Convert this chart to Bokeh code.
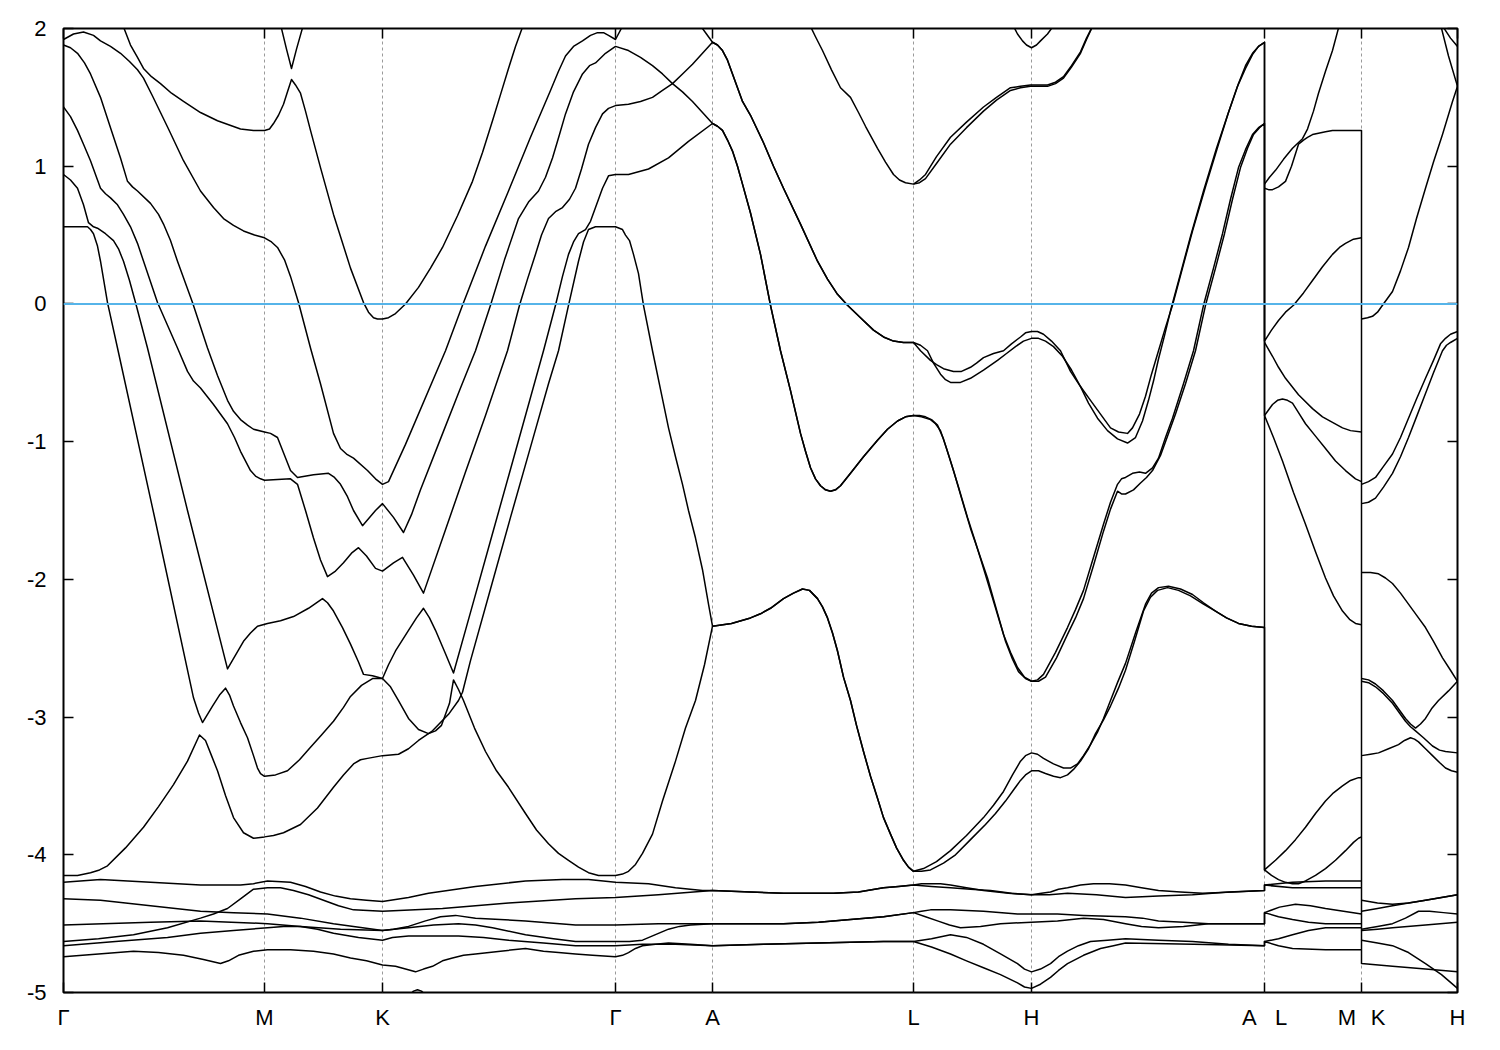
from bokeh.plotting import figure
from bokeh.models import Range1d, FixedTicker, Span, LinearAxis
from bokeh.embed import file_html
from bokeh.resources import INLINE

# ---------------- axes data ----------------
sym_k = [0, 201, 319, 552, 649, 850, 968, 1201, 1298, 1394]
sym_labels = ["Γ", "M", "K", "Γ", "A", "L", "H", "A\u2002\u2004L", "M\u2002\u2006K", "H"]
e_ticks = [-5, -4, -3, -2, -1, 0, 1, 2]
e_min, e_max = -5, 2
fermi_level = 0.0

# ---------------- band data: (k, E[eV]) ----------------
# Γ-M-K-Γ upper bands
gmkg_1 = [(0,1.92),(10,1.96),(20,1.975),(30,1.95),(37,1.91),(47,1.87),(57,1.82),(66,1.76),(74,1.70),(80,1.64),(89,1.51),(97,1.39),(105,1.27),
          (120,1.04),(137,0.82),(150,0.70),(160,0.62),(170,0.57),(180,0.53),(191,0.50),(201,0.48),
          (208,0.45),(214,0.41),(221,0.32),(227,0.20),(235,0.01),(247,-0.32),(257,-0.58),(270,-0.94),(277,-1.05),(283,-1.09),(290,-1.12),
          (304,-1.21),(312,-1.27),(319,-1.31),
          (325,-1.29),(342,-1.02),(382,-0.34),(399,-0.01),(422,0.42),(445,0.82),(467,1.21),(487,1.55),(495,1.69),(502,1.80),(510,1.87),
          (519,1.91),(527,1.95),(534,1.97),(540,1.97),(545,1.95),(552,1.92)]
ga_4 = [(552,1.92),(560,2.03)]
gmkg_2 = [(59,2.03),(67,1.88),(74,1.79),(80,1.71),(88,1.65),(97,1.60),(108,1.53),(120,1.47),(137,1.39),(154,1.33),(177,1.27),(190,1.26),(201,1.26),
          (206,1.27),(210,1.31),(215,1.37),(220,1.45),(224,1.54),(228,1.63),(232,1.59),(237,1.53),
          (242,1.40),(247,1.26),(257,0.99),(270,0.65),(287,0.26),(300,0.01),(305,-0.06),(310,-0.10),(314,-0.11),(319,-0.11),(325,-0.10),(332,-0.07),
          (342,0.0),(355,0.12),(367,0.26),(379,0.41),(394,0.64),(409,0.89),(419,1.10),(429,1.33),(437,1.52),(445,1.71),(452,1.87),(460,2.03)]
mk_cap = [(217,2.03),(223,1.85),(228,1.71),(233,1.85),(240,2.03)]
gmkg_b = [(0,1.88),(7,1.86),(14,1.82),(21,1.75),(27,1.67),(37,1.50),(47,1.28),(57,1.06),(64,0.89),(69,0.85),(74,0.82),(87,0.73),(95,0.65),
          (100,0.58),(107,0.46),(114,0.31),(129,0.01),(144,-0.32),(154,-0.52),(164,-0.70),(170,-0.78),(177,-0.84),(184,-0.88),(190,-0.91),(201,-0.93),
          (207,-0.94),(214,-0.97),(220,-1.08),(227,-1.21),(234,-1.26),(250,-1.24),(265,-1.23),(271,-1.26),(277,-1.31),(284,-1.40),(290,-1.50),
          (299,-1.61),(312,-1.50),(319,-1.45),(330,-1.55),(340,-1.66),(348,-1.53),(357,-1.35),(377,-0.98),(397,-0.61),(412,-0.34),(427,-0.01),
          (441,0.32),(455,0.62),(465,0.74),(475,0.82),(482,0.92),(489,1.06),(496,1.23),(502,1.38),(510,1.54),(519,1.67),(526,1.73),(532,1.75),
          (542,1.82),(552,1.87)]
gmkg_c = [(0,1.43),(7,1.36),(14,1.26),(20,1.16),(27,1.04),(37,0.84),(42,0.80),(47,0.77),(54,0.72),(60,0.65),(67,0.56),(74,0.44),(94,0.01),
          (114,-0.32),(124,-0.49),(130,-0.56),(137,-0.61),(150,-0.73),(164,-0.87),(171,-0.97),(177,-1.07),(187,-1.21),(192,-1.25),(197,-1.27),
          (201,-1.28),(227,-1.27),(234,-1.31),(242,-1.50),(250,-1.70),(257,-1.86),(264,-1.98),(272,-1.94),(280,-1.88),(288,-1.81),(295,-1.77),
          (303,-1.83),(312,-1.92),(319,-1.94),(330,-1.88),(339,-1.84),(350,-1.97),(360,-2.10),(382,-1.64),(402,-1.22),(422,-0.81),(444,-0.34),
          (456,-0.01),(464,0.18),(472,0.36),(478,0.50),(485,0.62),(492,0.67),(499,0.70),(506,0.76),(512,0.84),(518,0.98),(525,1.16),(532,1.28),
          (539,1.38),(545,1.42),(552,1.44)]
gmkg_d = [(0,0.94),(7,0.90),(14,0.84),(20,0.72),(25,0.59),(30,0.56),(34,0.55),(42,0.51),(50,0.46),(55,0.40),(60,0.31),(66,0.17),(72,0.01),
          (84,-0.32),(124,-1.50),(164,-2.65),(172,-2.55),(180,-2.45),(187,-2.39),(194,-2.34),(204,-2.32),(217,-2.30),(230,-2.27),(245,-2.21),
          (259,-2.14),(264,-2.17),(270,-2.23),(279,-2.35),(287,-2.47),(295,-2.60),(300,-2.69),(309,-2.70),(319,-2.72),(325,-2.62),(332,-2.52),
          (345,-2.37),(353,-2.28),(360,-2.21),(366,-2.28),(372,-2.37),(382,-2.54),(390,-2.68),(407,-2.24),(427,-1.72),(447,-1.20),(467,-0.68),
          (480,-0.34),(492,-0.01),(499,0.20),(505,0.36),(510,0.45),(515,0.51),(522,0.54),(527,0.60),(532,0.70),(539,0.84),(545,0.93),(552,0.94)]
gmkg_e = [(0,0.56),(15,0.56),(24,0.56),(27,0.54),(30,0.51),(34,0.42),(37,0.31),(44,0.01),(54,-0.32),(92,-1.58),(130,-2.86),(135,-2.97),
          (139,-3.04),(144,-2.98),(149,-2.92),(156,-2.84),(162,-2.79),(166,-2.84),(170,-2.92),(177,-3.04),(184,-3.15),(190,-3.28),(194,-3.37),
          (197,-3.41),(201,-3.43),(212,-3.42),(224,-3.39),(236,-3.31),(247,-3.22),(258,-3.13),(270,-3.03),(280,-2.93),(287,-2.85),(298,-2.77),
          (309,-2.72),(319,-2.72),(327,-2.78),(335,-2.88),(345,-3.01),(355,-3.09),(365,-3.12),(372,-3.10),(378,-3.06),(386,-2.90),(390,-2.73),
          (395,-2.80),(400,-2.88),(411,-3.08),(422,-3.25),(433,-3.39),(445,-3.51),(462,-3.70),(473,-3.82),(485,-3.92),(495,-3.99),(505,-4.04),
          (515,-4.09),(525,-4.13),(535,-4.15),(545,-4.15),(552,-4.15)]
gmkg_q = [(0,-4.15),(14,-4.15),(27,-4.13),(36,-4.11),(44,-4.08),(62,-3.95),(80,-3.80),(95,-3.65),(110,-3.49),(124,-3.32),(136,-3.13),
          (142,-3.17),(148,-3.28),(154,-3.39),(162,-3.57),(170,-3.73),(180,-3.84),(190,-3.88),(201,-3.87),(210,-3.86),(220,-3.84),(237,-3.78),
          (254,-3.66),(270,-3.51),(280,-3.42),(290,-3.34),(297,-3.31),(304,-3.30),(319,-3.28),(335,-3.27),(345,-3.23),(355,-3.17),(369,-3.10),
          (385,-2.98),(395,-2.88),(399,-2.82),(407,-2.59),(427,-2.07),(447,-1.55),(467,-1.04),(485,-0.58),(495,-0.34),(505,-0.01),(515,0.31),
          (520,0.45),(525,0.54),(532,0.56),(539,0.56),(552,0.56)]

# Γ-A
ga_1 = [(552,0.94),(565,0.94),(585,0.98),(605,1.06),(625,1.18),(649,1.31)]
ga_2 = [(552,1.44),(565,1.45),(577,1.47),(589,1.50),(599,1.55),(609,1.60),(619,1.67),(629,1.74),(639,1.82),(649,1.90)]
ga_3 = [(552,1.87),(565,1.84),(577,1.79),(589,1.73),(599,1.67),(609,1.60),(619,1.54),(629,1.47),(639,1.39),(649,1.31)]
ga_5 = [(636,2.03),(643,1.96),(649,1.90)]
ga_low = [(552,-4.15),(559,-4.14),(565,-4.12),(572,-4.07),(579,-3.99),(589,-3.85),(599,-3.61),(612,-3.32),(622,-3.08),(632,-2.88),
          (641,-2.62),(649,-2.34)]
ga_q = [(552,0.56),(559,0.54),(562,0.50),(566,0.46),(570,0.36),(575,0.22),(580,-0.01),(589,-0.34),(597,-0.62),(605,-0.90),(612,-1.11),
        (619,-1.31),(625,-1.50),(632,-1.70),(639,-1.93),(645,-2.18),(649,-2.34)]

# A-L
al_u1 = [(649,1.90),(654,1.88),(659,1.84),(664,1.77),(669,1.67),(679,1.47),(687,1.37),(700,1.17),(710,1.00),(720,0.84),(737,0.58),(754,0.31),
         (764,0.18),(774,0.07),(784,-0.01),(797,-0.10),(810,-0.19),(820,-0.24),(830,-0.27),(840,-0.28),(850,-0.28)]
al_u2 = [(649,1.31),(654,1.29),(659,1.26),(664,1.19),(669,1.11),(674,1.00),(679,0.87),(687,0.66),(697,0.36),(707,-0.01),(717,-0.34),
         (727,-0.63),(737,-0.94),(742,-1.07),(747,-1.19),(752,-1.27),(757,-1.32),(762,-1.35),(767,-1.36),(772,-1.35),(777,-1.32),(787,-1.23),
         (800,-1.11),(814,-0.99),(824,-0.91),(834,-0.85),(842,-0.82),(850,-0.81)]
al_top = [(746,2.03),(752,1.94),(759,1.84),(768,1.70),(777,1.57),(787,1.50),(795,1.39),(802,1.29),(814,1.13),(822,1.03),(830,0.94),
          (836,0.90),(842,0.88),(850,0.87)]
al_low = [(649,-2.34),(668,-2.32),(687,-2.28),(697,-2.25),(707,-2.21),(720,-2.14),(730,-2.10),(739,-2.07),(746,-2.08),(754,-2.14),
          (759,-2.20),(764,-2.28),(769,-2.39),(774,-2.52),(780,-2.71),(787,-2.88),(793,-3.06),(800,-3.25),(807,-3.43),(814,-3.59),(820,-3.73),
          (827,-3.85),(833,-3.95),(840,-4.04),(845,-4.09),(850,-4.12)]

# L-H-A
lha_u1a = [(850,-0.28),(857,-0.34),(867,-0.41),(873,-0.44),(880,-0.47),(890,-0.49),(898,-0.49),(907,-0.46),(913,-0.43),(920,-0.39),
           (930,-0.36),(940,-0.34),(948,-0.29),(957,-0.24),(962,-0.21),(968,-0.20),(974,-0.20),(980,-0.22),(988,-0.27),(997,-0.34),(1007,-0.49),
           (1017,-0.60),(1027,-0.70),(1037,-0.80),(1047,-0.90),(1055,-0.93),(1064,-0.94),(1069,-0.90),(1076,-0.80),(1082,-0.67),(1088,-0.51),
           (1095,-0.34),(1102,-0.17),(1109,-0.01),(1119,0.26),(1129,0.53),(1142,0.85),(1155,1.16),(1165,1.39),(1175,1.60),(1182,1.73),
           (1189,1.82),(1195,1.87),(1201,1.90)]
lha_u1b = [(850,-0.28),(857,-0.30),(864,-0.34),(870,-0.43),(877,-0.51),(882,-0.55),(887,-0.57),(897,-0.57),(907,-0.54),(920,-0.48),
           (934,-0.41),(943,-0.36),(952,-0.31),(960,-0.27),(968,-0.25),(975,-0.25),(982,-0.27),(990,-0.31),(999,-0.38),(1008,-0.48),(1017,-0.60),
           (1025,-0.72),(1034,-0.83),(1044,-0.92),(1054,-0.98),(1064,-1.01),(1072,-0.97),(1079,-0.85),(1085,-0.70),(1090,-0.56),(1095,-0.40),
           (1101,-0.23),(1107,-0.05),(1117,0.22),(1127,0.49),(1140,0.82),(1153,1.13),(1164,1.37),(1174,1.58),(1182,1.71),(1189,1.81),(1195,1.87),
           (1201,1.90)]
lha_u2a = [(850,-0.81),(856,-0.81),(862,-0.82),(868,-0.84),(874,-0.88),(880,-0.98),(887,-1.14),(895,-1.33),(904,-1.55),(912,-1.73),
           (920,-1.92),(930,-2.16),(940,-2.40),(947,-2.53),(954,-2.64),(961,-2.71),(968,-2.74),(974,-2.73),(980,-2.69),(992,-2.53),(1004,-2.35),
           (1012,-2.22),(1020,-2.08),(1030,-1.84),(1040,-1.60),(1047,-1.44),(1054,-1.31),(1058,-1.27),(1062,-1.26),(1069,-1.23),(1076,-1.22),
           (1082,-1.23),(1089,-1.19),(1095,-1.12),(1102,-0.97),(1109,-0.83),(1120,-0.58),(1130,-0.34),(1140,-0.01),(1150,0.26),(1159,0.51),
           (1167,0.76),(1175,0.99),(1182,1.12),(1189,1.23),(1195,1.28),(1201,1.31)]
lha_u2b = [(850,-0.81),(858,-0.82),(867,-0.84),(872,-0.87),(877,-0.92),(883,-1.05),(890,-1.21),(898,-1.41),(907,-1.63),(915,-1.80),
           (924,-1.99),(933,-2.22),(942,-2.45),(949,-2.58),(955,-2.67),(962,-2.72),(968,-2.74),(975,-2.74),(982,-2.71),(993,-2.57),(1004,-2.40),
           (1012,-2.28),(1020,-2.14),(1030,-1.90),(1040,-1.65),(1047,-1.49),(1054,-1.36),(1058,-1.38),(1062,-1.38),(1070,-1.35),(1077,-1.30),
           (1083,-1.26),(1089,-1.21),(1097,-1.10),(1104,-0.96),(1112,-0.80),(1122,-0.58),(1132,-0.34),(1142,-0.01),(1152,0.26),(1161,0.51),
           (1169,0.76),(1177,0.99),(1184,1.13),(1190,1.23),(1196,1.28),(1201,1.31)]
lha_top_a = [(850,0.87),(856,0.88),(862,0.91),(873,1.02),(887,1.16),(903,1.28),(920,1.40),(933,1.48),(947,1.55),(957,1.57),(967,1.58),
             (976,1.58),(984,1.58),(992,1.60),(1000,1.64),(1008,1.72),(1017,1.82),(1023,1.92),(1030,2.03)]
lha_top_b = [(850,0.87),(856,0.90),(862,0.94),(873,1.07),(887,1.21),(903,1.32),(920,1.43),(933,1.50),(947,1.57),(957,1.58),(967,1.59),
             (976,1.59),(984,1.59),(992,1.61),(1000,1.65),(1008,1.73),(1017,1.83),(1023,1.93),(1030,2.03)]
h_cap = [(949,2.03),(954,1.96),(959,1.91),(963,1.88),(968,1.86),(973,1.88),(977,1.91),(984,1.96),(991,2.03)]
lha_low_a = [(850,-4.12),(860,-4.10),(873,-4.05),(887,-3.97),(903,-3.86),(920,-3.73),(930,-3.64),(940,-3.54),(949,-3.42),(957,-3.32),
             (962,-3.28),(968,-3.26),(974,-3.27),(980,-3.30),(990,-3.34),(1000,-3.37),(1007,-3.37),(1014,-3.34),(1020,-3.28),(1027,-3.20),
             (1034,-3.11),(1040,-3.01),(1047,-2.88),(1054,-2.75),(1062,-2.61),(1072,-2.39),(1082,-2.18),(1088,-2.10),(1095,-2.06),(1105,-2.05),
             (1117,-2.07),(1129,-2.11),(1140,-2.17),(1152,-2.23),(1163,-2.28),(1175,-2.32),(1188,-2.34),(1201,-2.35)]
lha_low_b = [(850,-4.12),(858,-4.12),(867,-4.11),(880,-4.06),(892,-4.00),(907,-3.89),(922,-3.78),(932,-3.70),(942,-3.61),(950,-3.53),
             (957,-3.46),(962,-3.42),(968,-3.39),(975,-3.39),(982,-3.41),(990,-3.43),(997,-3.44),(1004,-3.42),(1010,-3.38),(1017,-3.32),
             (1025,-3.23),(1032,-3.12),(1040,-3.02),(1047,-2.92),(1055,-2.79),(1062,-2.66),(1071,-2.45),(1080,-2.23),(1087,-2.13),(1094,-2.08),
             (1104,-2.06),(1115,-2.08),(1127,-2.12),(1140,-2.18),(1152,-2.23),(1163,-2.28),(1175,-2.32),(1188,-2.34),(1201,-2.35)]

# L-M
lm_1 = [(1201,0.87),(1206,0.92),(1212,0.97),(1220,1.05),(1229,1.13),(1239,1.20),(1244,1.27),(1250,1.40),(1255,1.53),(1262,1.69),
        (1269,1.84),(1276,2.03)]
lm_2 = [(1201,0.84),(1205,0.83),(1209,0.83),(1215,0.85),(1222,0.89),(1228,1.00),(1235,1.16),(1240,1.19),(1244,1.21),(1249,1.23),
        (1255,1.24),(1262,1.25),(1269,1.26),(1298,1.26)]
lm_3 = [(1201,-0.27),(1208,-0.19),(1215,-0.12),(1222,-0.06),(1230,-0.01),(1240,0.08),(1249,0.17),(1259,0.27),(1269,0.36),(1276,0.41),
        (1282,0.44),(1290,0.47),(1298,0.48)]
lm_4 = [(1201,-0.28),(1209,-0.38),(1215,-0.46),(1222,-0.54),(1235,-0.66),(1249,-0.76),(1259,-0.82),(1269,-0.86),(1279,-0.90),(1287,-0.92),
        (1298,-0.93)]
lm_5 = [(1201,-0.81),(1205,-0.77),(1209,-0.73),(1214,-0.70),(1219,-0.69),(1224,-0.70),(1229,-0.72),(1235,-0.79),(1242,-0.87),(1252,-0.96),
        (1262,-1.05),(1272,-1.14),(1282,-1.21),(1292,-1.27),(1298,-1.29)]
lm_6 = [(1201,-0.81),(1210,-0.97),(1219,-1.14),(1230,-1.37),(1242,-1.60),(1252,-1.80),(1262,-1.99),(1270,-2.12),(1279,-2.23),(1286,-2.29),
        (1292,-2.32),(1298,-2.33)]
lm_7 = [(1201,-4.11),(1208,-4.15),(1215,-4.18),(1222,-4.20),(1229,-4.21),(1235,-4.21),(1242,-4.19),(1252,-4.15),(1262,-4.10),(1272,-4.04),
        (1282,-3.97),(1290,-3.91),(1295,-3.88),(1298,-3.87)]
lm_8 = [(1201,-4.11),(1212,-4.04),(1222,-3.97),(1232,-3.89),(1242,-3.80),(1252,-3.70),(1262,-3.61),(1270,-3.55),(1279,-3.50),(1287,-3.46),
        (1295,-3.44),(1298,-3.44)]
lm_9 = [(1201,-4.22),(1229,-4.20),(1262,-4.19),(1298,-4.19)]
lm_10 = [(1201,-4.22),(1229,-4.24),(1298,-4.24)]
lm_11 = [(1201,-4.42),(1216,-4.38),(1232,-4.36),(1247,-4.37),(1262,-4.39),(1280,-4.41),(1298,-4.43)]
lm_12 = [(1201,-4.42),(1215,-4.45),(1229,-4.47),(1245,-4.49),(1262,-4.50),(1298,-4.50)]
lm_13 = [(1201,-4.63),(1215,-4.61),(1229,-4.58),(1245,-4.55),(1262,-4.53),(1298,-4.53)]
lm_14 = [(1201,-4.63),(1215,-4.66),(1229,-4.68),(1262,-4.69),(1298,-4.69)]

# K-H
kh_t1 = [(1298,-0.11),(1304,-0.10),(1309,-0.09),(1314,-0.06),(1319,-0.01),(1329,0.09),(1337,0.24),(1345,0.41),(1353,0.62),(1362,0.84),
         (1370,1.03),(1379,1.23),(1384,1.35),(1389,1.47),(1394,1.58)]
kh_t2 = [(1377,2.03),(1385,1.80),(1394,1.58)]
kh_t3 = [(1378,2.03),(1387,1.93),(1394,1.87)]
kh_1 = [(1298,-1.31),(1305,-1.29),(1312,-1.26),(1320,-1.18),(1329,-1.09),(1337,-0.97),(1345,-0.83),(1353,-0.69),(1362,-0.54),(1370,-0.41),
        (1377,-0.29),(1382,-0.25),(1387,-0.22),(1394,-0.20)]
kh_2 = [(1298,-1.45),(1305,-1.44),(1312,-1.41),(1320,-1.33),(1329,-1.23),(1337,-1.11),(1345,-0.97),(1353,-0.82),(1362,-0.65),(1370,-0.50),
        (1379,-0.34),(1383,-0.30),(1387,-0.28),(1394,-0.25)]
kh_3 = [(1298,-1.95),(1307,-1.95),(1315,-1.96),(1322,-1.99),(1329,-2.03),(1337,-2.10),(1345,-2.18),(1353,-2.26),(1362,-2.35),(1370,-2.45),
        (1379,-2.57),(1387,-2.66),(1394,-2.74)]
kh_4 = [(1298,-2.72),(1305,-2.73),(1312,-2.76),(1320,-2.81),(1329,-2.88),(1336,-2.95),(1342,-3.01),(1347,-3.05),(1352,-3.08),(1357,-3.05),
        (1362,-3.01),(1368,-2.94),(1375,-2.88),(1385,-2.81),(1394,-2.74)]
kh_5 = [(1298,-2.74),(1305,-2.75),(1312,-2.78),(1320,-2.83),(1329,-2.90),(1336,-2.97),(1342,-3.03),(1347,-3.07),(1352,-3.10),(1360,-3.15),
        (1369,-3.21),(1376,-3.24),(1382,-3.25),(1394,-3.26)]
kh_6 = [(1298,-3.28),(1307,-3.27),(1315,-3.26),(1325,-3.23),(1335,-3.20),(1341,-3.17),(1347,-3.15),(1351,-3.16),(1355,-3.18),(1362,-3.23),
        (1369,-3.28),(1376,-3.33),(1382,-3.37),(1388,-3.39),(1394,-3.40)]
kh_l1 = [(1298,-4.33),(1314,-4.35),(1329,-4.36),(1345,-4.35),(1362,-4.33),(1378,-4.31),(1394,-4.29)]
kh_l2 = [(1298,-4.41),(1314,-4.39),(1329,-4.37),(1345,-4.35),(1362,-4.33),(1378,-4.31),(1394,-4.29)]
kh_l3 = [(1298,-4.54),(1314,-4.52),(1329,-4.50),(1342,-4.46),(1355,-4.41),(1366,-4.41),(1380,-4.42),(1394,-4.43)]
kh_l4 = [(1298,-4.55),(1314,-4.54),(1329,-4.53),(1362,-4.51),(1394,-4.49)]
kh_l5 = [(1298,-4.62),(1314,-4.64),(1329,-4.66),(1345,-4.71),(1362,-4.79),(1378,-4.87),(1394,-4.97)]
kh_l6 = [(1298,-4.79),(1329,-4.81),(1362,-4.83),(1394,-4.85)]

# semicore-like flat bands (Γ-M-K-Γ-A)
low_1 = [(0,-4.20),(37,-4.18),(87,-4.20),(137,-4.22),(177,-4.22),(190,-4.21),(204,-4.19),(227,-4.20),(242,-4.23),(257,-4.27),(272,-4.30),
         (287,-4.32),(303,-4.33),(319,-4.34),(345,-4.31),(365,-4.28),(412,-4.23),(462,-4.19),(499,-4.18),(525,-4.18),(552,-4.20),(585,-4.21),
         (612,-4.24),(639,-4.26),(649,-4.26)]
low_2 = [(0,-4.63),(35,-4.61),(70,-4.58),(104,-4.53),(137,-4.46),(150,-4.43),(164,-4.39),(177,-4.32),(190,-4.25),(204,-4.24),(217,-4.24),
         (230,-4.26),(245,-4.29),(260,-4.33),(275,-4.37),(290,-4.40),(319,-4.41),(379,-4.39),(445,-4.35),(512,-4.32),(552,-4.31),(595,-4.29),
         (649,-4.26)]
low_3 = [(0,-4.32),(37,-4.33),(87,-4.37),(137,-4.41),(170,-4.42),(204,-4.43),(237,-4.46),(270,-4.50),(290,-4.52),(319,-4.55),(330,-4.54),
         (345,-4.52),(362,-4.48),(377,-4.45),(392,-4.44),(412,-4.46),(462,-4.48),(512,-4.51),(552,-4.51),(595,-4.50),(649,-4.50)]
low_4 = [(0,-4.51),(87,-4.49),(137,-4.48),(204,-4.50),(237,-4.52),(277,-4.54),(319,-4.55),(345,-4.53),(370,-4.51),(395,-4.50),(412,-4.51),
         (429,-4.53),(462,-4.58),(490,-4.61),(512,-4.63),(552,-4.63),(566,-4.63),(579,-4.62),(592,-4.58),(605,-4.54),(616,-4.52),(627,-4.51),
         (649,-4.50)]
low_5 = [(0,-4.66),(52,-4.63),(104,-4.60),(137,-4.57),(170,-4.55),(204,-4.53),(220,-4.52),(237,-4.52),(254,-4.54),(270,-4.57),(295,-4.60),
         (319,-4.62),(329,-4.60),(345,-4.59),(370,-4.59),(395,-4.59),(420,-4.60),(445,-4.62),(480,-4.64),(512,-4.66),(552,-4.66),(579,-4.65),
         (612,-4.65),(649,-4.66)]
low_6 = [(0,-4.74),(35,-4.72),(70,-4.70),(95,-4.71),(120,-4.73),(140,-4.76),(157,-4.79),(165,-4.77),(175,-4.73),(190,-4.70),(204,-4.69),
         (227,-4.69),(250,-4.70),(270,-4.72),(287,-4.75),(303,-4.77),(319,-4.80),(332,-4.81),(342,-4.83),(352,-4.85),(360,-4.83),(369,-4.81),
         (379,-4.77),(389,-4.75),(400,-4.73),(412,-4.72),(437,-4.70),(462,-4.68),(480,-4.70),(495,-4.71),(512,-4.72),(529,-4.73),(552,-4.74),
         (559,-4.73),(565,-4.71),(572,-4.68),(579,-4.66),(592,-4.65),(605,-4.64),(627,-4.65),(649,-4.66)]
low_bump = [(346,-5.02),(350,-4.99),(354,-4.98),(358,-4.99),(362,-5.02)]
al_l1 = [(649,-4.26),(687,-4.27),(720,-4.28),(770,-4.28),(795,-4.27),(820,-4.24),(835,-4.23),(850,-4.22)]
al_l3 = [(649,-4.50),(720,-4.50),(755,-4.49),(787,-4.47),(820,-4.45),(850,-4.42)]
al_l5 = [(649,-4.66),(700,-4.65),(754,-4.64),(820,-4.63),(850,-4.63)]
lha_l1 = [(850,-4.22),(858,-4.21),(867,-4.21),(877,-4.21),(887,-4.22),(903,-4.24),(920,-4.26),(945,-4.28),(968,-4.29),(978,-4.28),
          (987,-4.27),(995,-4.25),(1004,-4.24),(1017,-4.22),(1030,-4.21),(1046,-4.21),(1062,-4.22),(1078,-4.24),(1095,-4.26),(1117,-4.27),
          (1139,-4.28),(1170,-4.27),(1201,-4.26)]
lha_l2 = [(850,-4.22),(868,-4.23),(887,-4.24),(907,-4.25),(927,-4.26),(948,-4.28),(968,-4.29),(986,-4.29),(1004,-4.28),(1033,-4.29),
          (1062,-4.31),(1095,-4.30),(1129,-4.29),(1165,-4.27),(1201,-4.26)]
lha_l3 = [(850,-4.42),(858,-4.41),(867,-4.40),(887,-4.40),(920,-4.41),(954,-4.43),(968,-4.43),(994,-4.43),(1020,-4.44),(1062,-4.45),
          (1079,-4.46),(1095,-4.48),(1120,-4.49),(1145,-4.50),(1201,-4.50)]
lha_l4 = [(850,-4.42),(862,-4.45),(874,-4.48),(886,-4.51),(897,-4.53),(917,-4.52),(937,-4.50),(968,-4.49),(994,-4.48),(1020,-4.46),
          (1040,-4.47),(1062,-4.50),(1078,-4.52),(1095,-4.53),(1120,-4.52),(1145,-4.50),(1201,-4.50)]
lha_l5 = [(850,-4.63),(868,-4.61),(887,-4.58),(903,-4.60),(920,-4.65),(937,-4.72),(954,-4.79),(961,-4.83),(968,-4.85),(977,-4.83),
          (987,-4.79),(995,-4.74),(1004,-4.70),(1015,-4.66),(1027,-4.63),(1044,-4.62),(1062,-4.61),(1095,-4.62),(1129,-4.63),(1165,-4.65),
          (1201,-4.66)]
lha_l6 = [(850,-4.63),(868,-4.67),(887,-4.72),(903,-4.77),(920,-4.82),(937,-4.87),(954,-4.93),(961,-4.96),(968,-4.97),(977,-4.94),
          (987,-4.89),(995,-4.84),(1004,-4.79),(1020,-4.73),(1037,-4.68),(1050,-4.66),(1062,-4.64),(1130,-4.65),(1201,-4.66)]

# bands joined along the path (jumps at A|L and M|K are drawn as in the original)
bands = [
    gmkg_1 + ga_4,
    gmkg_2,
    mk_cap,
    gmkg_b + ga_3 + al_u2 + lha_u2b,
    gmkg_c + ga_2 + al_u1 + lha_u1a + lm_7,
    gmkg_d + ga_1 + al_u2 + lha_u2a + lm_6,
    gmkg_e + ga_low + al_low + lha_low_a + lm_8,
    gmkg_q + ga_q + al_low + lha_low_b,
    ga_5 + al_u1 + lha_u1b + lm_3,
    al_top + lha_top_a,
    lha_top_b,
    h_cap,
    lm_1, lm_2 + kh_l6, lm_4, lm_5,
    kh_t1, kh_t2, kh_t3, kh_1, kh_2, kh_3, kh_4, kh_5, kh_6,
    kh_l1, kh_l2, kh_l3, kh_l4, kh_l5,
    low_1 + al_l1 + lha_l1 + lm_9,
    low_2 + al_l1 + lha_l2 + lm_10,
    low_3 + al_l3 + lha_l3 + lm_11,
    low_4 + al_l3 + lha_l4 + lm_12,
    low_5 + al_l5 + lha_l5 + lm_13,
    low_6 + al_l5 + lha_l6 + lm_14,
    low_bump,
]

xs = [[pt[0] for pt in b] for b in bands]
ys = [[pt[1] for pt in b] for b in bands]

# ---------------- figure ----------------
FONT = "Liberation Sans"
p = figure(frame_width=1394, frame_height=964,
           x_range=Range1d(sym_k[0], sym_k[-1]), y_range=Range1d(e_min, e_max),
           output_backend="svg", toolbar_location=None,
           min_border_left=63, min_border_top=28, min_border_right=30, min_border_bottom=50,
           background_fill_color="white", border_fill_color="white")

p.outline_line_color = "black"
p.outline_line_width = 2
p.outline_line_alpha = 1.0

p.xgrid.ticker = FixedTicker(ticks=sym_k)
p.xgrid.grid_line_color = "#9a9a9a"
p.xgrid.grid_line_dash = "3 3"
p.xgrid.grid_line_width = 1
p.ygrid.grid_line_color = None

p.multi_line(xs, ys, line_color="black", line_width=1.5, line_join="round")

p.add_layout(Span(location=fermi_level, dimension="width", line_color="#56b4e9", line_width=2))

# bottom axis
xa = p.xaxis[0]
xa.ticker = FixedTicker(ticks=sym_k)
xa.major_label_overrides = {k: lab for k, lab in zip(sym_k, sym_labels)}
xa.axis_line_color = None
xa.major_tick_in = 10
xa.major_tick_out = 0
xa.major_tick_line_width = 1.5
xa.minor_tick_line_color = None
xa.major_label_standoff = 12
xa.major_label_text_font = FONT
xa.major_label_text_font_size = "22px"
xa.major_label_text_color = "black"

# left axis
ya = p.yaxis[0]
ya.ticker = FixedTicker(ticks=e_ticks)
ya.major_label_overrides = {t: str(t) for t in e_ticks}
ya.axis_line_color = None
ya.major_tick_in = 10
ya.major_tick_out = 0
ya.major_tick_line_width = 1.5
ya.minor_tick_line_color = None
ya.major_label_standoff = 17
ya.major_label_text_font = FONT
ya.major_label_text_font_size = "22px"
ya.major_label_text_color = "black"

# mirrored ticks (top and right), no labels drawn
top = LinearAxis(ticker=FixedTicker(ticks=sym_k), major_tick_in=10, major_tick_out=0,
                 major_tick_line_width=1.5, minor_tick_line_color=None, axis_line_color=None,
                 major_label_text_color=None, major_label_text_font_size="1px", major_label_standoff=0)
p.add_layout(top, "above")
right = LinearAxis(ticker=FixedTicker(ticks=e_ticks), major_tick_in=10, major_tick_out=0,
                   major_tick_line_width=1.5, minor_tick_line_color=None, axis_line_color=None,
                   major_label_text_color=None, major_label_text_font_size="1px", major_label_standoff=0)
p.add_layout(right, "right")

open("out.html", "w").write(file_html(p, INLINE, "band structure"))
